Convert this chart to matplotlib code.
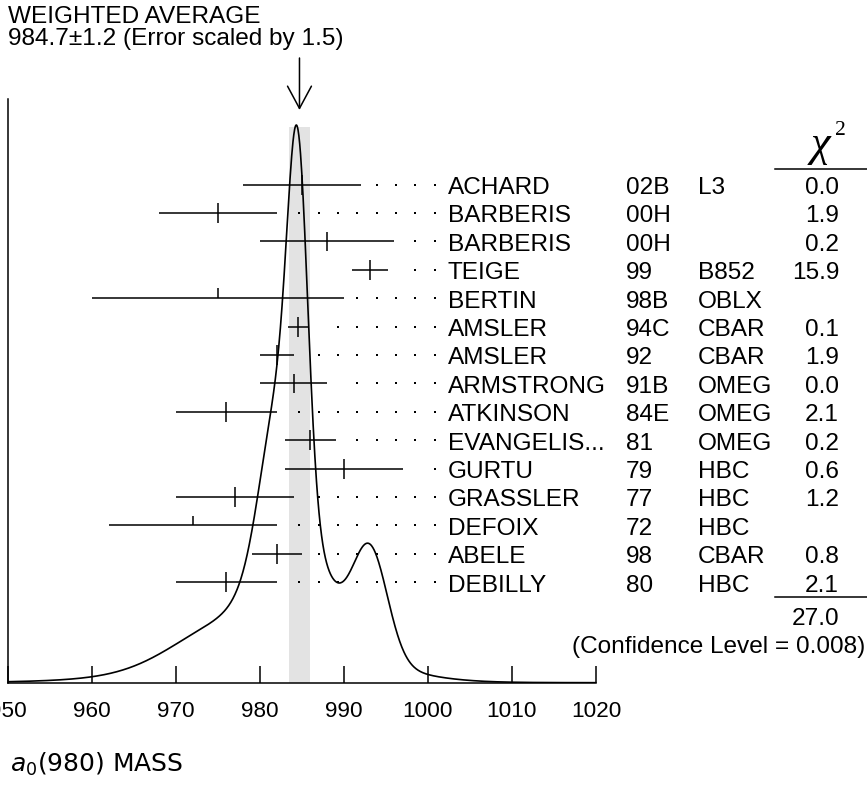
import matplotlib.pyplot as plt
import numpy as np
from matplotlib.transforms import blended_transform_factory

# measurements (top to bottom)
authors = ['ACHARD', 'BARBERIS', 'BARBERIS', 'TEIGE', 'BERTIN', 'AMSLER', 'AMSLER',
           'ARMSTRONG', 'ATKINSON', 'EVANGELIS...', 'GURTU', 'GRASSLER', 'DEFOIX',
           'ABELE', 'DEBILLY']
years = ['02B', '00H', '00H', '99', '98B', '94C', '92', '91B', '84E', '81', '79', '77',
         '72', '98', '80']
exps = ['L3', '', '', 'B852', 'OBLX', 'CBAR', 'CBAR', 'OMEG', 'OMEG', 'OMEG', 'HBC',
        'HBC', 'HBC', 'CBAR', 'HBC']
chi2 = ['0.0', '1.9', '0.2', '15.9', '', '0.1', '1.9', '0.0', '2.1', '0.2', '0.6', '1.2',
        '', '0.8', '2.1']
mass = np.array([985, 975, 988, 993.1, 975, 984.5, 982, 984, 976, 986, 990, 977, 972,
                 982, 976])
err = np.array([7, 7, 8, 2.1, 15, 1.2, 2, 4, 6, 3, 7, 7, 10, 3, 6])

avg, avg_err = 984.7, 1.2
chi2_total = '27.0'
conf_level = '0.008'
xticks = [950, 960, 970, 980, 990, 1000, 1010, 1020]

W, H = 867, 786
fig = plt.figure(figsize=(W / 100, H / 100), dpi=100)
fx = lambda px: px / W
fy = lambda py: 1 - py / H

# axes: left edge at x=8px, baseline at y=682.7px, top at 99px
ax = fig.add_axes([fx(8), fy(682.7), (596 - 8) / W, (682.7 - 99) / H])
row_px, row0_px = 28.4, 184.7
ybot = (682.7 - row0_px) / row_px
ytop = (99 - row0_px) / row_px
to_row = lambda py: (py - row0_px) / row_px
ax.set_xlim(950, 1020)
ax.set_ylim(ybot, ytop)

rows = np.arange(len(authors))
used = np.array([c != '' for c in chi2])
lo, hi = mass - err, mass + err

# ideogram: gaussians with area ~ 1/err
grid = np.linspace(950, 1020, 1400)
ideo = np.zeros_like(grid)
for m, e in zip(mass, err):
    ideo += np.exp(-(grid - m) ** 2 / (2 * e ** 2)) / e ** 2
peak = to_row(125)
curve = ybot - (ybot - peak) * ideo / ideo.max()

ax.axvspan(avg - avg_err, avg + avg_err, ymax=(682.7 - 126.7) / (682.7 - 99),
           color='#e3e3e3', lw=0, zorder=0)
ax.plot(grid, curve, color='black', lw=1.2, zorder=3)

ax.hlines(rows, lo, hi, color='black', lw=1.1, zorder=2)
ax.vlines(mass[used], rows[used] - 0.35, rows[used] + 0.35, color='black', lw=1.1, zorder=2)
ax.vlines(mass[~used], rows[~used] - 0.35, rows[~used], color='black', lw=1.1, zorder=2)

# leader dots
step = 2.3
dots = avg + step * np.arange(8)
for r, h in zip(rows, hi):
    d = dots[dots > h + 1.55]
    ax.plot(d, [r] * len(d), ls='none', marker='s', ms=1.5, mew=0, color='black', zorder=2)

ax.annotate('', xy=(avg, to_row(110)), xytext=(avg, to_row(58)),
            arrowprops=dict(arrowstyle='->,head_length=0.8,head_width=0.43', lw=1.1,
                            color='black', shrinkA=0, shrinkB=0, mutation_scale=20),
            annotation_clip=False)

for s in ['top', 'right']:
    ax.spines[s].set_visible(False)
for s in ['left', 'bottom']:
    ax.spines[s].set_linewidth(1.1)
ax.set_yticks([])
ax.set_xticks(xticks)
ax.set_xticklabels([str(t) for t in xticks], family='Liberation Sans', fontsize=16.2)
ax.tick_params(axis='x', direction='in', length=12, width=1.1, pad=13)

sans = 'Liberation Sans'
fs = 17.6
tr = blended_transform_factory(fig.transFigure, ax.transData)
cap = 9.3 / row_px
for r in rows:
    ax.text(fx(448), r + cap, authors[r], transform=tr, family=sans, fontsize=fs)
    ax.text(fx(626), r + cap, years[r], transform=tr, family=sans, fontsize=fs)
    ax.text(fx(698), r + cap, exps[r], transform=tr, family=sans, fontsize=fs)
    ax.text(fx(839), r + cap, chi2[r], transform=tr, family=sans, fontsize=fs, ha='right')

fig.add_artist(plt.Line2D([fx(775), fx(867)], [fy(169), fy(169)], color='black', lw=1.1))
fig.add_artist(plt.Line2D([fx(775), fx(867)], [fy(596.7), fy(596.7)], color='black', lw=1.1))
fig.text(fx(820), fy(156), 'χ', family='Liberation Serif', style='italic', fontsize=32,
         ha='center')
fig.text(fx(835), fy(135), '2', family='Liberation Serif', fontsize=15.5)
fig.text(fx(839), fy(625), chi2_total, family=sans, fontsize=fs, ha='right')
fig.text(fx(865), fy(653), '(Confidence Level = %s)' % conf_level, family=sans,
         fontsize=fs, ha='right')

fig.text(fx(8), fy(22.7), 'WEIGHTED AVERAGE', family=sans, fontsize=fs)
fig.text(fx(8), fy(45), '%.1f±%.1f (Error scaled by 1.5)' % (avg, avg_err),
         family=sans, fontsize=fs)
fig.text(fx(10), fy(772), r'$a_0$(980) MASS', fontsize=18)

fig.savefig('out.png', dpi=100)
